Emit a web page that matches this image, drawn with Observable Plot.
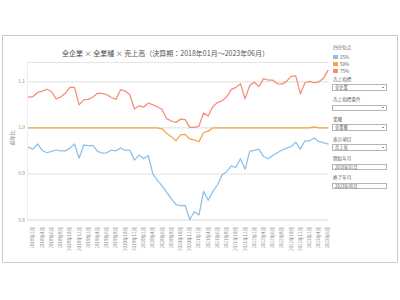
<!DOCTYPE html>
<html><head><meta charset="utf-8">
<script src="https://cdn.jsdelivr.net/npm/d3@7"></script>
<script src="https://cdn.jsdelivr.net/npm/@observablehq/plot@0.6"></script>
<style>
html,body{margin:0;padding:0;background:#fff;}
#root{position:relative;width:400px;height:300px;overflow:hidden;font-family:"Noto Sans CJK JP","Noto Sans",sans-serif;}
.abs{position:absolute;white-space:nowrap;line-height:1;}
#frame{left:2px;top:35px;width:396px;height:228px;border:1px solid #cbcbcb;box-sizing:border-box;}
#title{left:0;width:331px;top:50px;text-align:center;font-size:7px;color:#555;}
.lab{font-size:4.6px;color:#666;}
.box{width:55px;height:6.5px;border:0.8px solid #b5b5b5;background:#fff;box-sizing:border-box;font-size:4.2px;color:#555;padding-left:2px;line-height:5px;}
.arr{position:absolute;right:2px;top:1.8px;width:0;height:0;border-left:1.3px solid transparent;border-right:1.3px solid transparent;border-top:1.8px solid #222;}
.sw{width:4.5px;height:4.5px;}
#plot{position:absolute;left:0;top:0;}
</style></head>
<body><div id="root">
<div id="frame" class="abs"></div>
<div id="plot"></div>
<div id="title" class="abs"></div>
<div id="side"></div>
</div>
<script>
const titleText = "全企業 × 全業種 × 売上高（決算期：2018年01月～2023年06月）";
const yTitle = "前年比";
const months = [
 "2018年1月","2018年2月","2018年3月","2018年4月","2018年5月","2018年6月","2018年7月","2018年8月","2018年9月","2018年10月","2018年11月","2018年12月",
 "2019年1月","2019年2月","2019年3月","2019年4月","2019年5月","2019年6月","2019年7月","2019年8月","2019年9月","2019年10月","2019年11月","2019年12月",
 "2020年1月","2020年2月","2020年3月","2020年4月","2020年5月","2020年6月","2020年7月","2020年8月","2020年9月","2020年10月","2020年11月","2020年12月",
 "2021年1月","2021年2月","2021年3月","2021年4月","2021年5月","2021年6月","2021年7月","2021年8月","2021年9月","2021年10月","2021年11月","2021年12月",
 "2022年1月","2022年2月","2022年3月","2022年4月","2022年5月","2022年6月","2022年7月","2022年8月","2022年9月","2022年10月","2022年11月","2022年12月",
 "2023年1月","2023年2月","2023年3月","2023年4月","2023年5月","2023年6月"];
const quartiles = ["25%","50%","75%"];
const colors = ["#8ac0ea","#f5a53f","#f88b74"];
const p25 = [0.958,0.954,0.965,0.951,0.946,0.949,0.952,0.950,0.950,0.956,
 0.965,0.934,0.963,0.961,0.962,0.949,0.945,0.946,0.952,0.950,
 0.957,0.951,0.952,0.930,0.941,0.933,0.940,0.900,0.886,0.874,
 0.860,0.846,0.834,0.831,0.832,0.801,0.818,0.811,0.862,0.843,
 0.862,0.876,0.898,0.905,0.917,0.914,0.933,0.910,0.949,0.951,
 0.954,0.938,0.933,0.940,0.946,0.952,0.956,0.959,0.969,0.954,
 0.972,0.972,0.978,0.970,0.968,0.965];
const p50 = [1.0,1.0,1.0,1.0,1.0,1.0,1.0,1.0,1.0,1.0,
 1.0,1.0,1.0,1.0,1.0,1.0,1.0,1.0,1.0,1.0,
 1.0,1.0,1.0,1.0,1.0,1.0,1.0,1.0,1.0,0.998,
 0.988,0.981,0.972,0.985,0.986,0.976,0.974,0.970,0.990,0.993,
 1.0,1.0,1.0,1.0,1.0,1.0,1.0,1.0,1.0,1.0,
 1.0,1.0,1.0,1.0,1.0,1.0,1.0,1.0,1.0,1.0,
 1.0,1.0,1.002,1.0,1.0,1.0];
const p75 = [1.067,1.068,1.077,1.080,1.084,1.079,1.063,1.067,1.075,1.088,
 1.088,1.050,1.061,1.062,1.067,1.075,1.075,1.072,1.066,1.062,
 1.083,1.080,1.072,1.041,1.048,1.045,1.054,1.050,1.046,1.040,
 1.020,1.015,1.012,1.019,1.018,1.001,1.001,1.004,1.032,1.026,
 1.046,1.055,1.059,1.067,1.083,1.088,1.096,1.063,1.092,1.099,
 1.090,1.107,1.104,1.104,1.096,1.095,1.101,1.112,1.113,1.074,
 1.098,1.101,1.098,1.100,1.108,1.125];
const yTicks = [0.8,0.9,1.0,1.1];
const filters = [
 {label:"売上指標", value:"全企業", drop:true, y:79},
 {label:"売上指標条件", value:"", drop:true, y:99.5},
 {label:"業種", value:"全業種", drop:true, y:119},
 {label:"表示項目", value:"売上高", drop:true, y:139},
 {label:"開始年月", value:"2018年01月", drop:false, y:158.5},
 {label:"終了年月", value:"2023年06月", drop:false, y:177.5}
];

const series = [p25,p50,p75];
const data = [];
series.forEach((s,k)=>s.forEach((v,i)=>data.push({i, v, q: quartiles[k]})));
const tickIdx = months.map((m,i)=>i).filter(i=>i%2===1);

document.getElementById("title").textContent = titleText;

const chart = Plot.plot({
  width:400, height:300,
  marginLeft:27, marginRight:72, marginTop:62, marginBottom:80.5,
  style:{background:"transparent", fontFamily:"'Noto Sans CJK JP', sans-serif"},
  x:{domain:[-0.2,65.1]},
  y:{domain:[0.8,1.142]},
  color:{domain:quartiles, range:colors},
  marks:[
    Plot.ruleY([0.9,1.0,1.1,1.142],{stroke:"#e5e5e5", strokeWidth:1.1}),
    Plot.ruleX([-0.2],{stroke:"#eeeeee", strokeWidth:1}),
    Plot.ruleY([0.8],{stroke:"#d6d6d6", strokeWidth:1.1}),
    Plot.axisY({ticks:yTicks, tickFormat:d3.format(".1f"), tickSize:0, tickPadding:2.5, fontSize:4.8, fill:"#888", label:null}),
    Plot.axisX({ticks:tickIdx, tickFormat:i=>months[i], tickRotate:-90, tickSize:0, tickPadding:7, fontSize:4.5, fill:"#888", label:null}),
    Plot.line(data,{x:"i", y:"v", z:"q", stroke:"q", strokeWidth:1.25, curve:"linear"}),
    Plot.text([yTitle],{frameAnchor:"left", dx:-15.5, dy:4, rotate:-90, fontSize:5, fill:"#888"})
  ]
});
document.getElementById("plot").appendChild(chart);

// legend and filters
const side = document.getElementById("side");
function el(cls, css, txt){const d=document.createElement("div");d.className="abs "+cls;Object.assign(d.style,css);if(txt!=null)d.textContent=txt;side.appendChild(d);return d;}
el("lab",{left:"333px",top:"45px"},"四分位点");
quartiles.forEach((q,k)=>{
  const yc = 57 + k*7;
  el("sw",{left:"333px",top:(yc-2.25)+"px",background:colors[k]});
  el("lab",{left:"340px",top:(yc-2.4)+"px"},q);
});
filters.forEach(f=>{
  el("lab",{left:"333px",top:(f.y-2.3)+"px"},f.label);
  const b = el("box",{left:"332px",top:(f.y+5.2)+"px"},f.value);
  if(f.drop){const a=document.createElement("div");a.className="arr";b.appendChild(a);}
});
</script>
</body></html>
